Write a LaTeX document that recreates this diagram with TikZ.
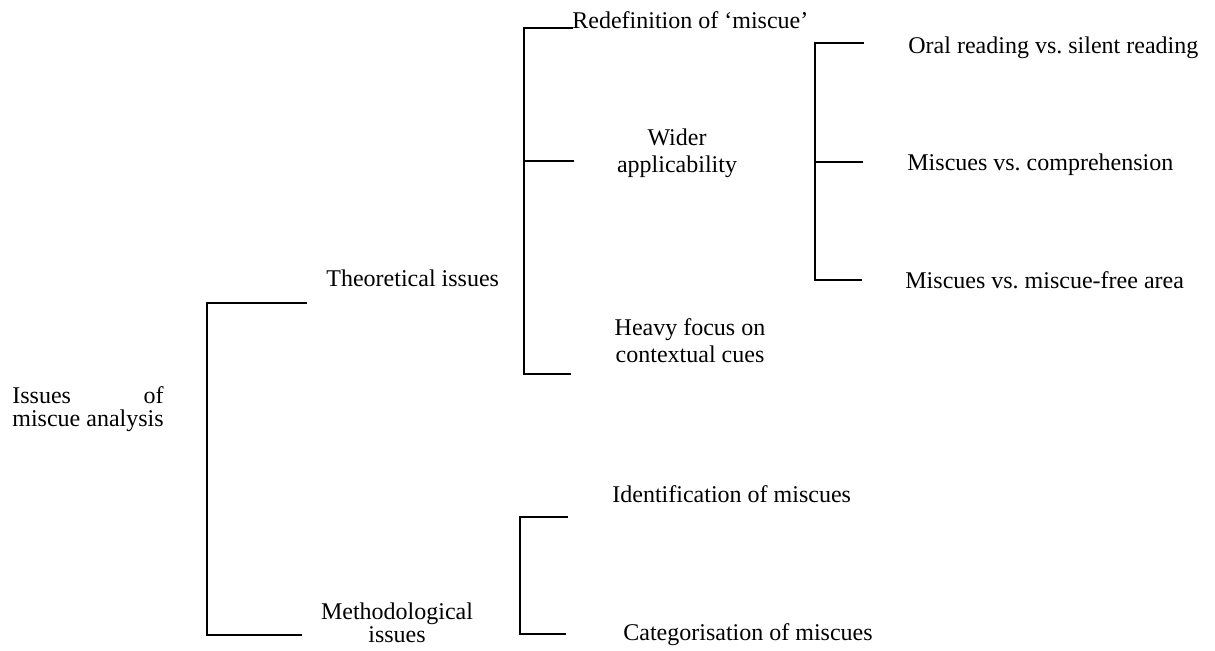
\documentclass[tikz,border=0pt]{standalone}
\usepackage{fontspec}
\setmainfont{Liberation Serif}
\frenchspacing
\begin{document}
\begin{tikzpicture}[x=0.5pt,y=-0.5pt,
  label/.style={inner sep=0pt,anchor=base west,font=\fontsize{12}{13.5}\selectfont},
  stack/.style={inner sep=0pt,anchor=base,font=\fontsize{12}{13.5}\selectfont},
  bracket/.style={line width=1.25pt,line join=miter}]
\useasboundingbox (0,0) rectangle (1215,650);

% ---- texts ----
\node[label] (root) at (12,403)
  {\fontsize{12}{11}\selectfont\begin{tabular}[t]{@{}l@{}}Issues\hfill of\\miscue analysis\end{tabular}};
\node[label] (theo) at (326,286) {Theoretical issues};
\node[stack] (meth) at (397,619)
  {\fontsize{12}{11.5}\selectfont\begin{tabular}[t]{@{}c@{}}Methodological\\issues\end{tabular}};

\node[label] (redef) at (572,28) {Redefinition of ‘miscue’};
\node[stack] (wider) at (677,145)
  {\begin{tabular}[t]{@{}c@{}}Wider\\applicability\end{tabular}};
\node[stack] (heavy) at (690,335)
  {\begin{tabular}[t]{@{}c@{}}Heavy focus on\\contextual cues\end{tabular}};

\node[label] (oral) at (908,53) {Oral reading vs. silent reading};
\node[label] (comp) at (907,170) {Miscues vs. comprehension};
\node[label] (free) at (905,288) {Miscues vs. miscue-free area};

\node[label] (ident) at (612,502) {Identification of miscues};
\node[label] (categ) at (623,640) {Categorisation of miscues};

% ---- bracket end points ----
\coordinate (rA) at (307,303);
\coordinate (rB) at (302,635);
\coordinate (tA) at (573,28);
\coordinate (tB) at (574,161);
\coordinate (tC) at (571,374);
\coordinate (wA) at (864,43);
\coordinate (wB) at (863,162);
\coordinate (wC) at (862,280);
\coordinate (mA) at (568,517);
\coordinate (mB) at (566,634);

% ---- brackets ----
\draw[bracket] (rA) -- ++(-100,0) |- (rB);
\draw[bracket] (tA) -- ++(-49,0) |- (tC);
\draw[bracket] (tB) -- ++(-50,0);
\draw[bracket] (wA) -- ++(-49,0) |- (wC);
\draw[bracket] (wB) -- ++(-48,0);
\draw[bracket] (mA) -- ++(-48,0) |- (mB);
\end{tikzpicture}
\end{document}
